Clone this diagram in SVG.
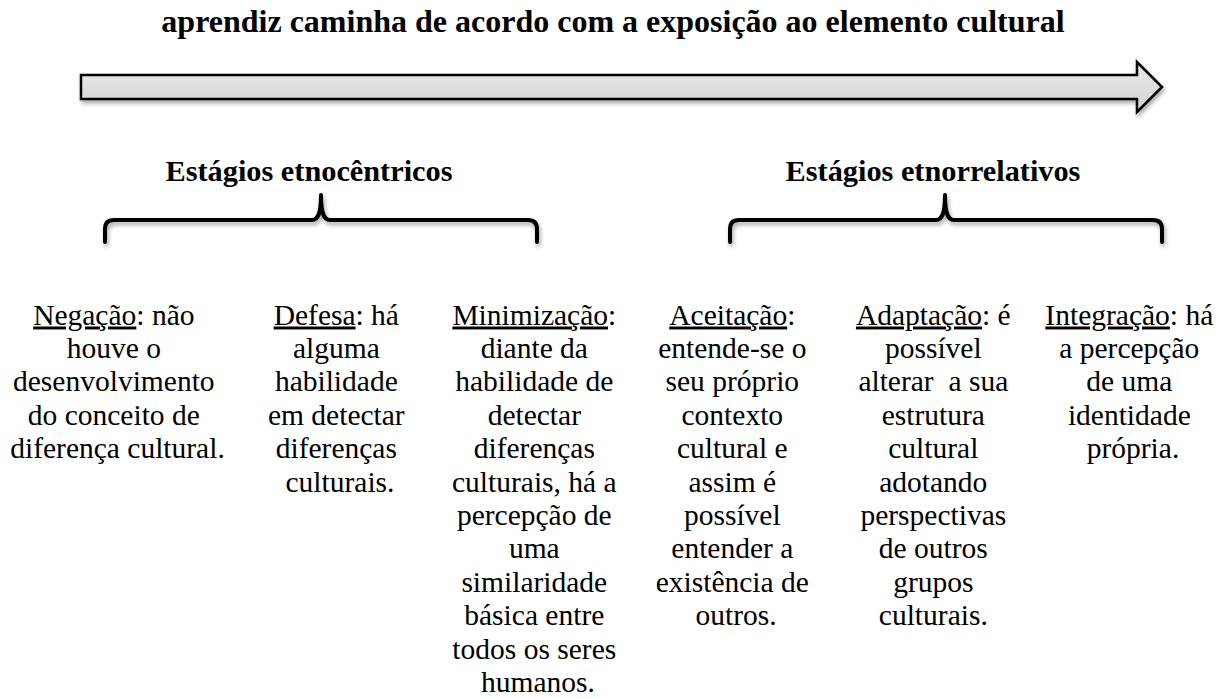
<svg xmlns="http://www.w3.org/2000/svg" width="1231" height="699" viewBox="0 0 1231 699">
<style>
text{font-family:"Liberation Serif","Times New Roman",serif;fill:#000}
.title{font-size:32px;font-weight:bold}
.head{font-size:30.3px;font-weight:bold}
.body{font-size:29.5px}
.u{text-decoration:underline}
.brace{fill:none;stroke:#000;stroke-width:4;stroke-linecap:round;stroke-linejoin:round}
</style>
<defs>
<linearGradient id="g" x1="0" y1="0" x2="0" y2="1">
<stop offset="0" stop-color="#ebebeb"/>
<stop offset="1" stop-color="#d2d2d2"/>
</linearGradient>
<filter id="sh" x="-5%" y="-30%" width="110%" height="170%">
<feDropShadow dx="1.5" dy="3" stdDeviation="2" flood-color="#000" flood-opacity="0.35"/>
</filter>
</defs>
<g id="title"><text class="title" x="613" y="32" text-anchor="middle">aprendiz caminha de acordo com a exposição ao elemento cultural</text></g>
<g id="arrow"><path d="M81,75 H1137 V62 L1162,87 L1137,112 V99 H81 Z" fill="url(#g)" stroke="#000" stroke-width="2.5" stroke-linejoin="miter" filter="url(#sh)"/></g>
<g id="etnocentricos">
<text class="head" x="309" y="181" text-anchor="middle">Estágios etnocêntricos</text>
<path class="brace" filter="url(#sh)" d="M105,242 V229 Q105,220 114,220 H312 C318,220 321,214 321,195 C321,214 324,220 330,220 H528 Q537,220 537,229 V242"/>
</g>
<g id="etnorrelativos">
<text class="head" x="933" y="181" text-anchor="middle">Estágios etnorrelativos</text>
<path class="brace" filter="url(#sh)" d="M730,242 V229 Q730,220 739,220 H936 C942,220 945,214 945,195 C945,214 948,220 954,220 H1153 Q1162,220 1162,229 V242"/>
</g>
<g id="connectors"></g>
<g id="negacao"><text class="body" text-anchor="middle">
<tspan x="117.5" y="324.5"><tspan class="u">Negação</tspan>: não</tspan>
<tspan x="117.5" y="357.9">houve o</tspan>
<tspan x="117.5" y="391.3">desenvolvimento</tspan>
<tspan x="117.5" y="424.7">do conceito de</tspan>
<tspan x="117.5" y="458.1">diferença cultural.</tspan>
</text></g>
<g id="defesa"><text class="body" text-anchor="middle">
<tspan x="340" y="324.5"><tspan class="u">Defesa</tspan>: há</tspan>
<tspan x="340" y="357.9">alguma</tspan>
<tspan x="340" y="391.3">habilidade</tspan>
<tspan x="340" y="424.7">em detectar</tspan>
<tspan x="340" y="458.1">diferenças</tspan>
<tspan x="340" y="491.5">culturais.</tspan>
</text></g>
<g id="minimizacao"><text class="body" text-anchor="middle">
<tspan x="538" y="324.5"><tspan class="u">Minimização</tspan>:</tspan>
<tspan x="538" y="357.9">diante da</tspan>
<tspan x="538" y="391.3">habilidade de</tspan>
<tspan x="538" y="424.7">detectar</tspan>
<tspan x="538" y="458.1">diferenças</tspan>
<tspan x="538" y="491.5">culturais, há a</tspan>
<tspan x="538" y="524.9">percepção de</tspan>
<tspan x="538" y="558.3">uma</tspan>
<tspan x="538" y="591.7">similaridade</tspan>
<tspan x="538" y="625.1">básica entre</tspan>
<tspan x="538" y="658.5">todos os seres</tspan>
<tspan x="538" y="691.9">humanos.</tspan>
</text></g>
<g id="aceitacao"><text class="body" text-anchor="middle">
<tspan x="736" y="324.5"><tspan class="u">Aceitação</tspan>:</tspan>
<tspan x="736" y="357.9">entende-se o</tspan>
<tspan x="736" y="391.3">seu próprio</tspan>
<tspan x="736" y="424.7">contexto</tspan>
<tspan x="736" y="458.1">cultural e</tspan>
<tspan x="736" y="491.5">assim é</tspan>
<tspan x="736" y="524.9">possível</tspan>
<tspan x="736" y="558.3">entender a</tspan>
<tspan x="736" y="591.7">existência de</tspan>
<tspan x="736" y="625.1">outros.</tspan>
</text></g>
<g id="adaptacao"><text class="body" text-anchor="middle" xml:space="preserve">
<tspan x="937" y="324.5"><tspan class="u">Adaptação</tspan>: é</tspan>
<tspan x="937" y="357.9">possível</tspan>
<tspan x="937" y="391.3">alterar  a sua</tspan>
<tspan x="937" y="424.7">estrutura</tspan>
<tspan x="937" y="458.1">cultural</tspan>
<tspan x="937" y="491.5">adotando</tspan>
<tspan x="937" y="524.9">perspectivas</tspan>
<tspan x="937" y="558.3">de outros</tspan>
<tspan x="937" y="591.7">grupos</tspan>
<tspan x="937" y="625.1">culturais.</tspan>
</text></g>
<g id="integracao"><text class="body" text-anchor="middle">
<tspan x="1133" y="324.5"><tspan class="u">Integração</tspan>: há</tspan>
<tspan x="1133" y="357.9">a percepção</tspan>
<tspan x="1133" y="391.3">de uma</tspan>
<tspan x="1133" y="424.7">identidade</tspan>
<tspan x="1133" y="458.1">própria.</tspan>
</text></g>
</svg>
